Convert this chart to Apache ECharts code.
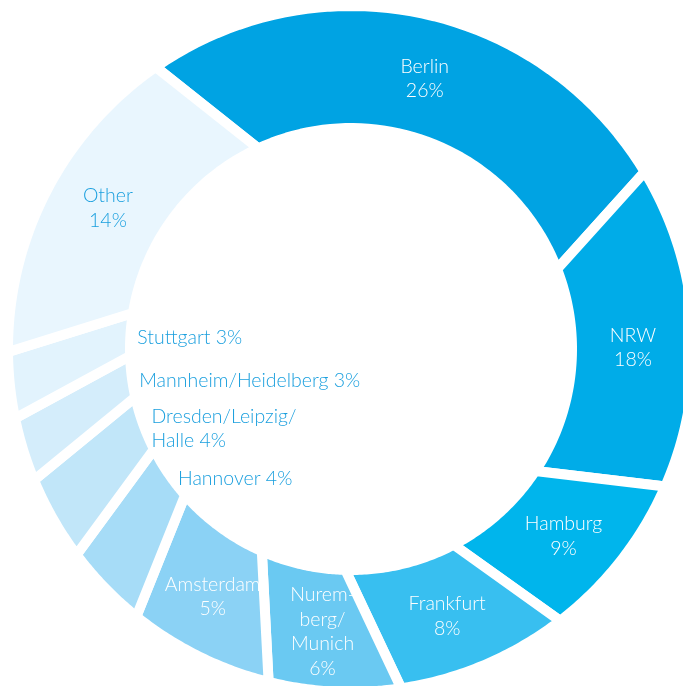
<!DOCTYPE html>
<html>
<head>
<meta charset="utf-8">
<script src="https://cdn.jsdelivr.net/npm/echarts@6/dist/echarts.min.js"></script>
<style>
html, body { margin: 0; padding: 0; background: #fff; }
#chart { width: 683px; height: 686px; }
</style>
</head>
<body>
<div id="chart"></div>
<script>
// printed labels, clockwise from Berlin
var cities = ['Berlin', 'NRW', 'Hamburg', 'Frankfurt', 'Nurem-\nberg/\nMunich', 'Amsterdam',
              'Hannover', 'Dresden/Leipzig/\nHalle', 'Mannheim/Heidelberg', 'Stuttgart', 'Other'];
var shares = [26, 18, 9, 8, 6, 5, 4, 4, 3, 3, 14];
// slice sizes as actually drawn in the picture (they don't follow the printed numbers exactly)
var arcs = [26, 15.2, 8, 8.1, 6.2, 6.9, 4, 4, 3, 3.1, 15.5];
// 1 = label sits in the hole of the ring
var inHole = [0, 0, 0, 0, 0, 0, 1, 1, 1, 1, 0];

var colors = ['#00a3e3', '#00ace8', '#00b5ec', '#38bff0', '#6ac9f2', '#8bd2f5',
              '#a6dcf7', '#c1e6f9', '#d4edfb', '#e2f3fd', '#e9f6fe'];
var blueText = '#1a9fde';

var R_OUT = 343, R_IN = 221;   // stroke eats 5px on each side
var SKEW = 2.75;               // inner edge turns further clockwise (pinwheel gaps)

var rows = [];
var acc = 0;
for (var i = 0; i < arcs.length; i++) {
    rows.push([acc, acc + arcs[i], i]);
    acc += arcs[i];
}

function renderSlice(params, api) {
    var s = api.value(0), e = api.value(1), idx = api.value(2);
    var n = 48, pts = [], k;
    for (k = 0; k <= n; k++) pts.push(api.coord([R_OUT, s + (e - s) * k / n]));
    for (k = n; k >= 0; k--) pts.push(api.coord([R_IN, s + SKEW + (e - s) * k / n]));

    var children = [{
        type: 'polygon',
        shape: { points: pts },
        style: { fill: colors[idx], stroke: '#fff', lineWidth: 10, lineJoin: 'round' }
    }];

    var mid = (s + e) / 2;
    var txt = {
        fontFamily: 'Lato', fontSize: 19.5, fontWeight: 300,
        verticalAlign: 'middle', lineHeight: 24.5
    };
    if (inHole[idx]) {
        var p = api.coord([226, mid + 2.5]);
        children.push({
            type: 'text', x: p[0] + 12, y: p[1], z2: 50,
            style: echarts.util.extend({
                text: cities[idx] + ' ' + shares[idx] + '%',
                fill: blueText, align: 'left'
            }, txt)
        });
    } else {
        var q = api.coord([282, mid + 0.85]);
        children.push({
            type: 'text', x: q[0], y: q[1] + 2, z2: 50,
            style: echarts.util.extend({
                text: cities[idx] + '\n' + shares[idx] + '%',
                fill: idx === 10 ? blueText : '#ffffff', align: 'center'
            }, txt)
        });
    }
    return { type: 'group', children: children };
}

var dom = document.getElementById('chart');
var myChart = echarts.init(dom);
var option = {
    backgroundColor: '#ffffff',
    animation: false,
    polar: { center: [351, 349], radius: R_OUT },
    angleAxis: { type: 'value', min: 0, max: 100, startAngle: 124.7, clockwise: true, show: false },
    radiusAxis: { type: 'value', min: 0, max: R_OUT, show: false },
    series: [{
        type: 'custom',
        coordinateSystem: 'polar',
        renderItem: renderSlice,
        data: rows
    }]
};
myChart.setOption(option);
</script>
</body>
</html>
